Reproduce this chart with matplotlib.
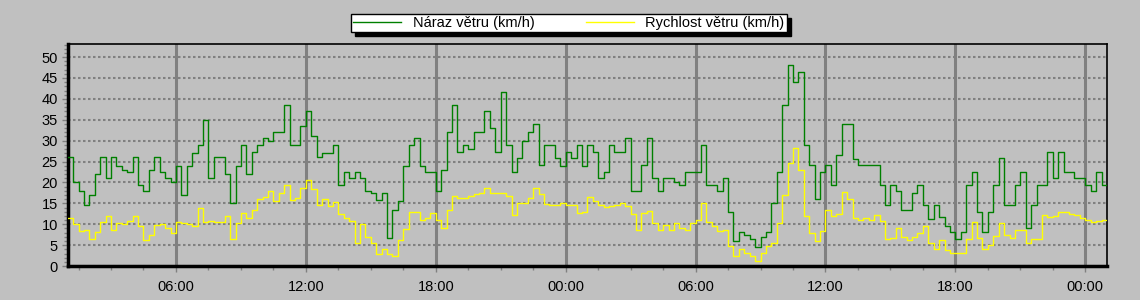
import matplotlib
matplotlib.use("Agg")
import matplotlib.pyplot as plt
from matplotlib.ticker import MultipleLocator, FuncFormatter
from matplotlib.lines import Line2D
import numpy as np

# 15-minute samples, first one at 01:00, two days long
start_hour = 1.0
step_hours = 0.25

gust = [
    26, 20, 18, 14.5, 17, 22, 26, 21, 26, 24, 23, 22.6, 26, 19.4, 18, 23,
    26, 22.6, 21, 20, 24, 17, 24, 27, 29, 35, 21, 26, 26, 22, 15, 24,
    29, 22, 27.4, 29, 30.6, 30, 32, 32, 38.5, 29, 29, 33.4, 37, 31, 26, 27,
    27, 29, 19.4, 22.6, 21, 22.6, 21, 18, 17.5, 15.9, 17.6, 6.7, 13.5, 15.5, 24, 29,
    30.6, 24, 22.6, 22.6, 17.9, 23, 32, 38.5, 27.4, 29, 28, 32, 32, 37, 33, 27.4,
    41.7, 29, 22.6, 25.8, 30, 32, 34, 24.2, 29, 29, 25.8, 24, 27.4, 25.8, 29, 24,
    29, 27.4, 21, 22.6, 29, 27.4, 27.4, 30.6, 17.9, 17.9, 24.2, 30.6, 21, 17.9, 21, 21,
    20, 19.4, 22.6, 22.6, 22.6, 29, 19.4, 19.4, 17.9, 21, 12.9, 6, 8.1, 7.5, 6.5, 4.5,
    7, 8.1, 15, 22.6, 38.5, 48, 44, 46.4, 29, 24.2, 16, 22.6, 24.2, 19.4, 26.5, 34.1,
    34.1, 25.5, 24.2, 24.2, 24.2, 24.2, 19.4, 14.7, 19.4, 17.9, 13.3, 13.3, 17.6, 19.3, 14.7, 11.3,
    14.7, 11.7, 9.5, 8.1, 6.5, 8.1, 19.4, 22.6, 12.9, 8.1, 12.9, 19.4, 25.8, 14.7, 14.7, 19.4,
    22.6, 9, 14.5, 19.4, 19.4, 27.4, 21, 27.4, 22.6, 22.6, 21, 21, 19.4, 17.9, 22.6, 19.4,
]

speed = [
    11.5, 10, 8.3, 8.7, 6.5, 8.1, 10.5, 11.9, 8.7, 10.3, 10, 10.7, 11.9, 9.5, 6.3, 7.5,
    9.9, 10, 9.2, 7.9, 10.6, 10.4, 10, 9.5, 14, 10.5, 10.9, 10.6, 10.5, 11.9, 6.5, 10.3,
    12.7, 11.5, 13.5, 16, 16.5, 18, 15.5, 17.5, 19.5, 15.9, 16.3, 18.8, 20.5, 18.5, 14.7, 16.1,
    14.4, 15.3, 12.4, 11.5, 10.7, 5.6, 10, 7, 5.6, 2.8, 4, 2.8, 2.4, 6.3, 8.8, 12.9,
    13, 11, 11.6, 12.8, 11.1, 9.1, 13.5, 16.8, 16.3, 16.3, 16.7, 17.3, 17.6, 18.7, 17.6, 17.6,
    17.5, 16.7, 12.3, 15, 15.1, 16.3, 18.7, 17.2, 14.8, 14.5, 14.7, 15.1, 14.7, 14.7, 12.8, 13,
    16.5, 15.5, 14.5, 14.1, 14.4, 14.5, 15.1, 14.3, 12.5, 8.7, 12.7, 13.1, 10.3, 8.7, 9.9, 8.7,
    10.3, 9, 8.7, 10.3, 11.1, 15.2, 10.5, 9.5, 8.5, 8.7, 4.8, 2.4, 4, 3.2, 2.4, 1.2,
    3.2, 4.9, 5.6, 10.3, 17.1, 24.6, 28.2, 23, 12, 7.9, 6, 8.3, 13.3, 11.9, 12.5, 17.8,
    16, 11.5, 11, 11.6, 11, 12.3, 10.7, 6.6, 6.8, 9.1, 7, 6.2, 7, 7.8, 9.5, 5.6,
    4, 6.3, 3.8, 3.2, 3.2, 3.2, 6.5, 10.6, 6.8, 4, 5, 7.1, 10.3, 7.5, 6.7, 8.6,
    8.7, 5.6, 6.5, 6.5, 12.3, 11.8, 12.1, 12.9, 12.9, 12.4, 12.3, 11.6, 11, 10.5, 10.9, 11,
]

labels = ["Náraz větru (km/h)", "Rychlost větru (km/h)"]
colors = ["#008000", "#ffff00"]

bg = "#c0c0c0"
grid_c = "#808080"

plt.rcParams["font.family"] = ["Liberation Sans", "DejaVu Sans"]

fig = plt.figure(figsize=(11.4, 3.0), dpi=100, facecolor=bg)
ax = fig.add_axes([0.0594, 0.113, 0.9116, 0.740])
ax.set_facecolor(bg)

t = start_hour + np.arange(len(gust) + 1) * step_hours
for vals, c in zip([gust, speed], colors):
    y = np.append(vals, vals[-1])
    ax.step(t, y, where="post", color=c, lw=1.0, zorder=3)

ax.set_xlim(t[0], t[-1])
ax.set_ylim(0, 53.1)

# grid
ax.xaxis.set_major_locator(MultipleLocator(6))
ax.xaxis.set_minor_locator(MultipleLocator(1.5))
ax.yaxis.set_major_locator(MultipleLocator(5))
ax.yaxis.set_minor_locator(MultipleLocator(1))
ax.xaxis.set_major_formatter(FuncFormatter(lambda v, p: f"{int(round(v)) % 24:02d}:00"))
ax.grid(axis="y", which="major", color=grid_c, ls=(0, (1.2, 1.2)), lw=1.5, zorder=1)
ax.grid(axis="x", which="major", color=grid_c, ls="-", lw=2.2, zorder=1)

ax.tick_params(axis="both", which="major", length=4, width=1, color=grid_c,
               labelsize=10.5, labelcolor="black")
ax.tick_params(axis="both", which="minor", length=3, width=1, color=grid_c)
ax.tick_params(axis="x", pad=6)
ax.tick_params(axis="y", pad=3)

for side in ["left", "bottom"]:
    ax.spines[side].set_linewidth(2.5)
for side in ["top", "right"]:
    ax.spines[side].set_linewidth(1.2)

handles = [Line2D([], [], color=c, lw=1) for c in colors]
leg = fig.legend(handles, labels, loc="center", bbox_to_anchor=(0.499, 0.923),
                 ncol=2, frameon=True, fancybox=False, fontsize=10.5,
                 handlelength=3.3, columnspacing=3.5, borderpad=0.15,
                 handletextpad=0.8, borderaxespad=0,
                 shadow={"color": "black", "alpha": 1, "ox": 3, "oy": -3})
leg.get_frame().set_edgecolor("black")
leg.get_frame().set_linewidth(1)
leg.get_frame().set_facecolor("white")

fig.savefig("out.png", dpi=100, facecolor=bg)
